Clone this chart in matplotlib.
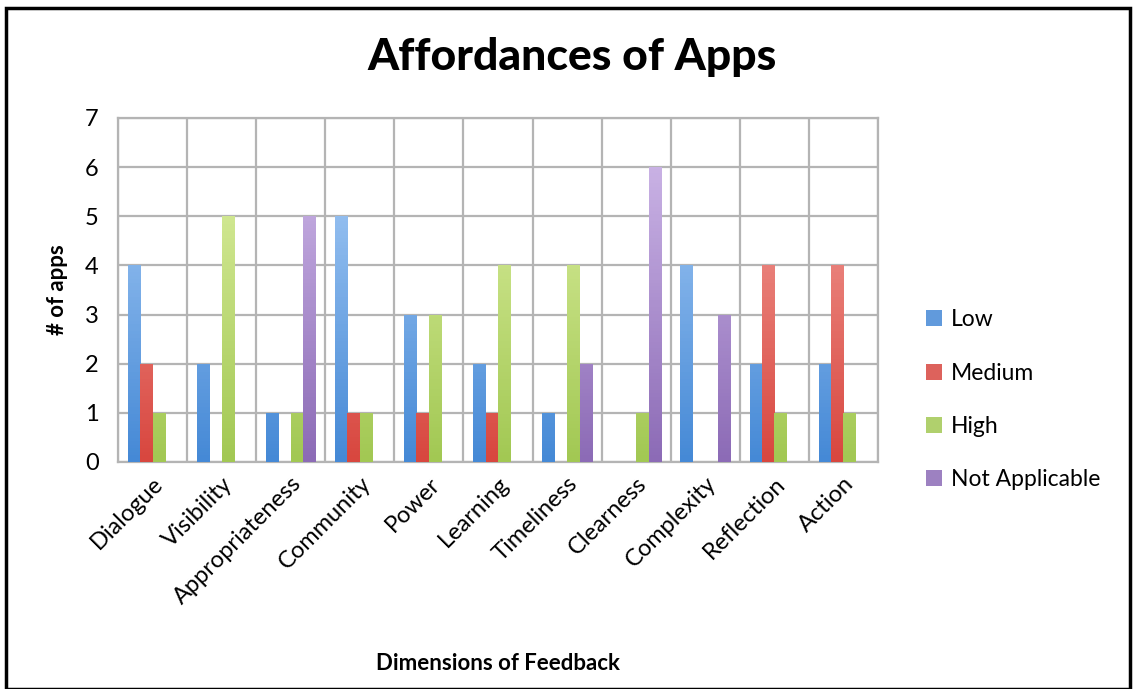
import matplotlib

matplotlib.use("Agg")
import matplotlib.pyplot as plt
import numpy as np
from matplotlib.colors import LinearSegmentedColormap
from matplotlib.patches import Patch, Rectangle


categories = ["Dialogue", "Visibility", "Appropriateness", "Community", "Power",
              "Learning", "Timeliness", "Clearness", "Complexity", "Reflection", "Action"]
series_names = ["Low", "Medium", "High", "Not Applicable"]
low = [4, 2, 1, 5, 3, 2, 1, 0, 4, 2, 2]
medium = [2, 0, 0, 1, 1, 1, 0, 0, 0, 4, 4]
high = [1, 5, 1, 1, 3, 4, 4, 1, 0, 1, 1]
not_applicable = [0, 0, 5, 0, 0, 0, 2, 6, 3, 0, 0]

# (top colour, bottom colour) for the gradient fill
colors = [
    ("#b0d2f9", "#4589d6"),
    ("#f6aaa4", "#d8473f"),
    ("#e2f3a8", "#a2c853"),
    ("#d3bdec", "#8c6bb6"),
]

plt.rcParams["font.family"] = ["Lato", "DejaVu Sans"]

fig = plt.figure(figsize=(11.36, 6.89), dpi=100)
ax = fig.add_axes([0.1039, 0.3295, 0.669, 0.4993])

x = np.arange(len(categories))
width = 0.18
offsets = (np.arange(4) - 1.5) * width
values = [low, medium, high, not_applicable]

for vals, off, (top, bottom) in zip(values, offsets, colors):
    bars = ax.bar(x + off, vals, width, color=bottom, zorder=2, linewidth=0)
    cmap = LinearSegmentedColormap.from_list("g", [bottom, top])
    grad = np.linspace(1, 0, 100).reshape(-1, 1)
    for b in bars:
        h = b.get_height()
        if h <= 0:
            continue
        x0 = b.get_x()
        im = ax.imshow(grad, extent=[x0, x0 + b.get_width(), 0, 7], aspect="auto",
                       cmap=cmap, zorder=3, origin="upper")
        im.set_clip_path(b)

ax.set_xlim(-0.5, len(categories) - 0.5)
ax.set_ylim(0, 7)
ax.set_yticks(range(8))
ax.set_xticks(x)
ax.set_xticklabels(categories, rotation=45, ha="right", rotation_mode="anchor", fontsize=17)
ax.tick_params(axis="y", labelsize=17, length=0, pad=14)
ax.tick_params(axis="x", length=0, pad=8)

ax.set_xticks(np.arange(-0.5, len(categories)), minor=True)
ax.tick_params(axis="x", which="minor", length=0)
ax.grid(True, axis="y", color="#b4b4b4", linewidth=1.6, zorder=0)
ax.grid(True, axis="x", which="minor", color="#b4b4b4", linewidth=1.6, zorder=0)
ax.grid(False, axis="x", which="major")
ax.set_axisbelow(True)
for s in ax.spines.values():
    s.set_color("#b4b4b4")
    s.set_linewidth(1.6)

ax.set_ylabel("# of apps", fontsize=16, fontweight="bold", labelpad=12)
ax.set_xlabel("Dimensions of Feedback", fontsize=16, fontweight="bold", labelpad=32)
fig.text(0.5035, 0.917, "Affordances of Apps", fontsize=32, fontweight="black",
         ha="center", va="center")

handles = [Patch(facecolor=c[1], alpha=0.85) for c in colors]
fig.legend(handles, series_names, loc="center left", bbox_to_anchor=(0.797, 0.42),
           frameon=False, fontsize=16.5, handlelength=0.7, handleheight=0.7,
           handletextpad=0.4, labelspacing=1.4)

fig.patches.append(Rectangle((0.005, 0.0), 0.99, 0.988, transform=fig.transFigure,
                             fill=False, edgecolor="black", linewidth=2.5))

fig.savefig("out.png", dpi=100)
plt.close(fig)
